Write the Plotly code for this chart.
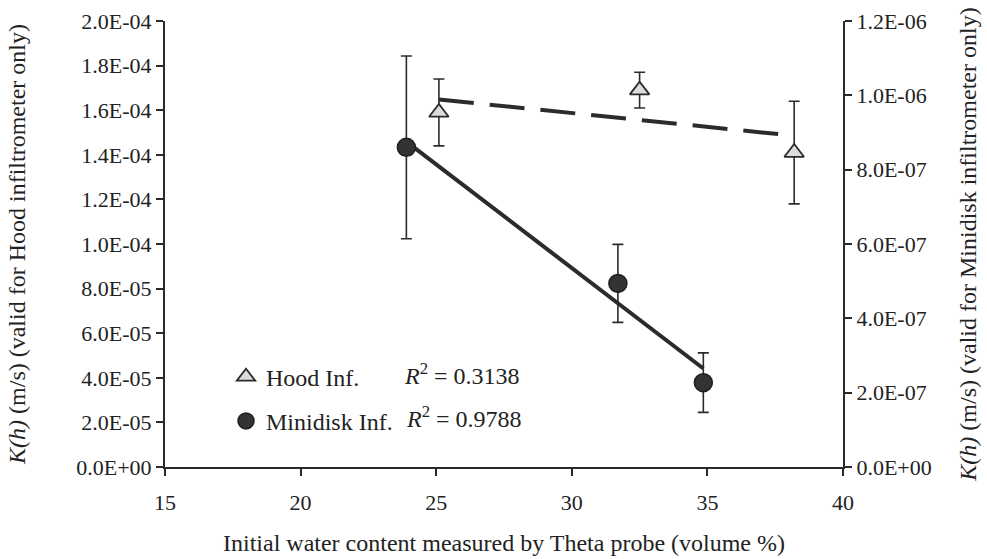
import numpy as np
import plotly.graph_objects as go

# Hood infiltrometer (left axis)
hood_x = [25.1, 32.5, 38.2]
hood_y = [1.59e-4, 1.69e-4, 1.41e-4]
hood_err = [1.5e-5, 8.0e-6, 2.3e-5]

# Minidisk infiltrometer (right axis)
mini_x = [23.9, 31.7, 34.85]
mini_y = [8.6e-7, 4.94e-7, 2.27e-7]
mini_err = [2.46e-7, 1.05e-7, 8.0e-8]

r2_labels = ["0.3138", "0.9788"]

left_ticks = [0, 2e-5, 4e-5, 6e-5, 8e-5, 1e-4, 1.2e-4, 1.4e-4, 1.6e-4, 1.8e-4, 2e-4]
left_ticktext = ["0.0E+00", "2.0E-05", "4.0E-05", "6.0E-05", "8.0E-05", "1.0E-04",
                 "1.2E-04", "1.4E-04", "1.6E-04", "1.8E-04", "2.0E-04"]
right_ticks = [0, 2e-7, 4e-7, 6e-7, 8e-7, 1e-6, 1.2e-6]
right_ticktext = ["0.0E+00", "2.0E-07", "4.0E-07", "6.0E-07", "8.0E-07", "1.0E-06", "1.2E-06"]

FONT = "Liberation Serif"
DARK = "#2b2b2b"
TXT = "#222222"

# linear trendlines
hp = np.polyfit(hood_x, hood_y, 1)
mp = np.polyfit(mini_x, mini_y, 1)
hx = [min(hood_x), max(hood_x)]
mx = [min(mini_x), max(mini_x)]

fig = go.Figure()

fig.add_trace(go.Scatter(x=hx, y=list(np.polyval(hp, hx)), mode="lines",
                         line=dict(color=DARK, width=4, dash="35px,16px"),
                         showlegend=False, hoverinfo="skip"))
fig.add_trace(go.Scatter(x=mx, y=list(np.polyval(mp, mx)), mode="lines", yaxis="y2",
                         line=dict(color=DARK, width=4),
                         showlegend=False, hoverinfo="skip"))

fig.add_trace(go.Scatter(
    x=hood_x, y=hood_y, mode="markers", name="Hood Inf.", legendgroup="a",
    marker=dict(symbol="triangle-up", size=17, color="#dcdcdc",
                line=dict(color=DARK, width=1.8)),
    error_y=dict(type="data", array=hood_err, color=DARK, thickness=1.6, width=5.5)))

fig.add_trace(go.Scatter(
    x=mini_x, y=mini_y, mode="markers", name="Minidisk Inf.", yaxis="y2", legendgroup="b",
    marker=dict(symbol="circle", size=18, color="#333333",
                line=dict(color="#1e1e1e", width=1.5)),
    error_y=dict(type="data", array=mini_err, color=DARK, thickness=1.6, width=5.5)))

axis_common = dict(showline=True, linecolor=DARK, linewidth=2, ticks="outside",
                   ticklen=7, tickwidth=2, tickcolor=DARK, showgrid=False,
                   zeroline=False, automargin=False,
                   tickfont=dict(family=FONT, size=22, color=TXT))

fig.update_layout(
    width=987, height=559,
    margin=dict(l=165, r=144, t=21, b=92),
    plot_bgcolor="white", paper_bgcolor="white",
    font=dict(family=FONT, size=22, color=TXT),
    xaxis=dict(range=[15, 40], dtick=5, tick0=15, ticklabelstandoff=8,
               title=dict(text="Initial water content measured by Theta probe (volume %)",
                          font=dict(family=FONT, size=24, color=TXT), standoff=20),
               **axis_common),
    yaxis=dict(range=[0, 2e-4], tickvals=left_ticks, ticktext=left_ticktext,
               title=dict(text="<i>K(h)</i> (m/s) (valid for Hood infiltrometer only)",
                          font=dict(family=FONT, size=24, color=TXT), standoff=44),
               **axis_common),
    yaxis2=dict(range=[0, 1.2e-6], tickvals=right_ticks, ticktext=right_ticktext,
                overlaying="y", side="right",
                title=dict(text="<i>K(h)</i> (m/s) (valid for Minidisk infiltrometer only)",
                           font=dict(family=FONT, size=24, color=TXT), standoff=28),
                **axis_common),
    legend=dict(x=0.09, y=0.252, xanchor="left", yanchor="top",
                bgcolor="rgba(0,0,0,0)", traceorder="grouped", tracegroupgap=10,
                font=dict(family=FONT, size=24, color=TXT)),
    showlegend=True,
)

fig.add_annotation(xref="paper", yref="paper", x=0.3496, y=0.2085, xanchor="left",
                   yanchor="middle", showarrow=False,
                   text="<i>R</i><sup>2</sup> = " + r2_labels[0],
                   font=dict(family=FONT, size=24, color=TXT))
fig.add_annotation(xref="paper", yref="paper", x=0.352, y=0.112, xanchor="left",
                   yanchor="middle", showarrow=False,
                   text="<i>R</i><sup>2</sup> = " + r2_labels[1],
                   font=dict(family=FONT, size=24, color=TXT))

fig.write_html("out.html")
